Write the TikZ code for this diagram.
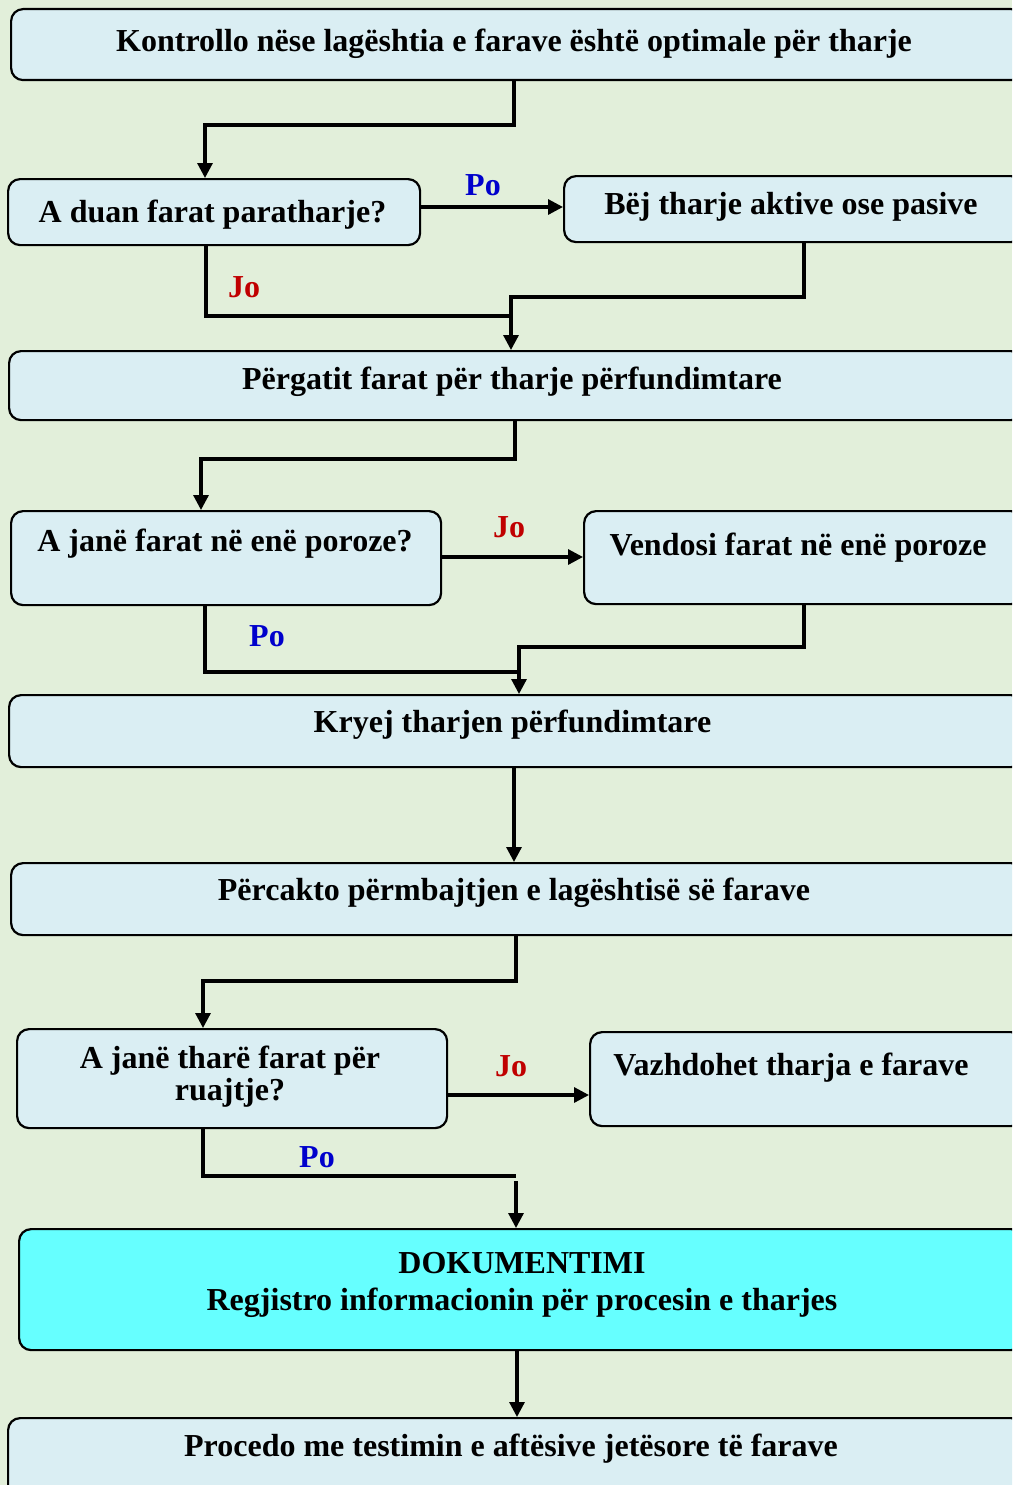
\documentclass[tikz,border=0pt]{standalone}
\usepackage{fontspec}
\setmainfont{Liberation Serif}
\usetikzlibrary{arrows.meta}
\definecolor{bgc}{HTML}{E2EFDA}
\definecolor{boxc}{HTML}{DAEEF3}
\definecolor{cyanc}{HTML}{66FFFF}
\definecolor{bluec}{HTML}{0000CC}
\definecolor{redc}{HTML}{C00000}
\tikzset{
  box/.style={draw=black, line width=2.2pt, fill=boxc, rounded corners=12pt, rectangle, inner sep=0pt, anchor=north west},
  txt/.style={inner sep=0pt, anchor=base, font=\fontsize{32pt}{32pt}\selectfont\bfseries},
  lblpo/.style={txt, text=bluec},
  lbljo/.style={txt, text=redc},
  conn/.style={line width=3.2pt, line join=miter},
  arr/.style={conn, -{Triangle[length=15pt,width=15pt]}}
}
\begin{document}
\begin{tikzpicture}[x=1pt,y=-1pt]
\useasboundingbox (0,0) rectangle (1012,1485);
\clip (0,0) rectangle (1012,1485);
\fill[bgc] (0,0) rectangle (1012,1485);

% boxes
\node[box, minimum width=1012pt, minimum height=71pt] (b1) at (10,8) {};
\node[box, minimum width=412pt, minimum height=66pt] (b2) at (7,178) {};
\node[box, minimum width=459pt, minimum height=66pt] (b3) at (563,175) {};
\node[box, minimum width=1014pt, minimum height=69pt] (b4) at (8,350) {};
\node[box, minimum width=430pt, minimum height=94pt] (b5) at (10,510) {};
\node[box, minimum width=439pt, minimum height=93pt] (b6) at (583,510) {};
\node[box, minimum width=1014pt, minimum height=72pt] (b7) at (8,694) {};
\node[box, minimum width=1012pt, minimum height=72pt] (b8) at (10,862) {};
\node[box, minimum width=430pt, minimum height=99pt] (b9) at (16,1028) {};
\node[box, minimum width=433pt, minimum height=94pt] (b10) at (589,1031) {};
\node[box, fill=cyanc, minimum width=1004pt, minimum height=121pt] (b11) at (18,1228) {};
\node[box, minimum width=1015pt, minimum height=85pt] (b12) at (7,1417) {};

% texts
\node[txt] (t1) at (514,52) {Kontrollo nëse lagështia e farave është optimale për tharje};
\node[txt] (t2) at (212.5,222) {A duan farat paratharje?};
\node[txt] (t3) at (791,214) {Bëj tharje aktive ose pasive};
\node[txt] (t4) at (512,389) {Përgatit farat për tharje përfundimtare};
\node[txt] (t5) at (225,551) {A janë farat në enë poroze?};
\node[txt] (t6) at (798,555) {Vendosi farat në enë poroze};
\node[txt] (t7) at (512.5,732) {Kryej tharjen përfundimtare};
\node[txt] (t8) at (514,900) {Përcakto përmbajtjen e lagështisë së farave};
\node[txt] (t9a) at (230,1068) {A janë tharë farat për};
\node[txt] (t9b) at (230,1100) {ruajtje?};
\node[txt] (t10) at (791,1075) {Vazhdohet tharja e farave};
\node[txt] (t11a) at (522,1273) {DOKUMENTIMI};
\node[txt] (t11b) at (522,1310) {Regjistro informacionin për procesin e tharjes};
\node[txt] (t12) at (511,1456) {Procedo me testimin e aftësive jetësore të farave};

% branch labels
\node[lblpo] (po1) at (483,195) {Po};
\node[lbljo] (jo1) at (244,297) {Jo};
\node[lbljo] (jo2) at (509,537) {Jo};
\node[lblpo] (po2) at (267,646) {Po};
\node[lbljo] (jo3) at (511,1076) {Jo};
\node[lblpo] (po3) at (317,1167) {Po};

% bend points
\coordinate (k1) at (514,125);
\coordinate (k2) at (205,125);
\coordinate (k3) at (206,316);
\coordinate (k4) at (512,316);
\coordinate (k5) at (804,297);
\coordinate (k6) at (511,297);
\coordinate (k7) at (515,459);
\coordinate (k8) at (201,459);
\coordinate (k9) at (205,672);
\coordinate (k10) at (517,672);
\coordinate (k11) at (804,647);
\coordinate (k12) at (519,647);
\coordinate (k13) at (514,800);
\coordinate (k14) at (516,981);
\coordinate (k15) at (203,981);
\coordinate (k16) at (203,1176);
\coordinate (k17) at (516,1176);
\coordinate (k18) at (516,1181);
\coordinate (k19) at (517,1380);
\coordinate (y207) at (0,207);
\coordinate (y557) at (0,557);
\coordinate (y1095) at (0,1095);

% connectors
\draw[arr] (b1.south -| k1) -- (k1) -- (k2) -- (k2 |- b2.north);
\draw[arr] (b2.east |- y207) -- (b3.west |- y207);
\draw[conn] (b2.south -| k3) -- (k3) -- (k4);
\draw[arr] (b3.south -| k5) -- (k5) -- (k6) -- (k6 |- b4.north);
\draw[arr] (b4.south -| k7) -- (k7) -- (k8) -- (k8 |- b5.north);
\draw[arr] (b5.east |- y557) -- (b6.west |- y557);
\draw[conn] (b5.south -| k9) -- (k9) -- (k10);
\draw[arr] (b6.south -| k11) -- (k11) -- (k12) -- (k12 |- b7.north);
\draw[arr] (b7.south -| k13) -- (k13 |- b8.north);
\draw[arr] (b8.south -| k14) -- (k14) -- (k15) -- (k15 |- b9.north);
\draw[arr] (b9.east |- y1095) -- (b10.west |- y1095);
\draw[conn] (b9.south -| k16) -- (k16) -- (k17);
\draw[arr] (k18) -- (k18 |- b11.north);
\draw[arr] (b11.south -| k19) -- (k19 |- b12.north);
\end{tikzpicture}
\end{document}
